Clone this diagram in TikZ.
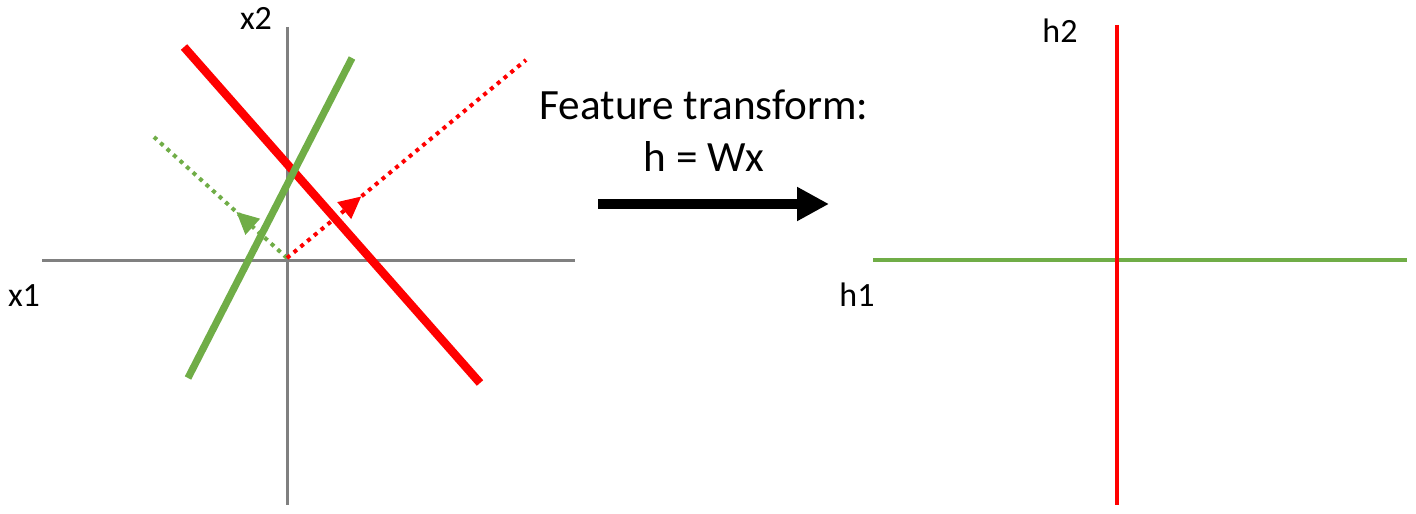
\documentclass[tikz,border=0pt]{standalone}
\usepackage{fontspec}
\setmainfont{Carlito}
\usetikzlibrary{arrows.meta,calc}
\definecolor{axgray}{HTML}{808080}
\definecolor{lred}{HTML}{FF0000}
\definecolor{lgreen}{HTML}{70AD47}
\begin{document}
\begin{tikzpicture}[x=0.5pt,y=-0.5pt,
  axis/.style={draw=axgray,line width=1.5pt},
  boldline/.style={line width=4.2pt},
  dotline/.style={line width=2pt,dash pattern=on 2pt off 2.4pt},
  lbl/.style={font=\fontsize{17}{20}\selectfont,anchor=base,inner sep=0pt},
  title/.style={font=\fontsize{21.6}{26}\selectfont,anchor=base,inner sep=0pt}]
\useasboundingbox (0,0) rectangle (1416,513);
% left axes
\coordinate (ax1l) at (42,260);
\coordinate (ax1r) at (575,260);
\coordinate (ax2t) at (287,27);
\coordinate (ax2b) at (287,505);
\coordinate (o) at (287,258);
\draw[axis] (ax1l) -- (ax1r);
\draw[axis] (ax2t) -- (ax2b);
\node[lbl] (x2) at (256,30) {x2};
\node[lbl] (x1) at (24,306) {x1};
% solid lines
\coordinate (r1) at (184,47);
\coordinate (r2) at (480,383);
\coordinate (g1) at (352,58);
\coordinate (g2) at (188,378);
\draw[boldline,lred] (r1) -- (r2);
\draw[boldline,lgreen,line width=3.6pt] (g1) -- (g2);
% dotted direction vectors
\coordinate (gd) at (154,137);
\coordinate (rd) at (526,60);
\draw[dotline,lgreen] (o) -- (gd);
\draw[dotline,lred] (o) -- (rd);
% arrowheads on the dotted vectors
\coordinate (gt) at (236.5,212);
\coordinate (gc1) at (260.2,218.7);
\coordinate (gc2) at (245.4,234.9);
\coordinate (rt) at (361.1,196.6);
\coordinate (rc1) at (351.2,219.1);
\coordinate (rc2) at (337.2,202.1);
\fill[lgreen] (gt) -- (gc1) -- (gc2) -- cycle;
\fill[lred] (rt) -- (rc1) -- (rc2) -- cycle;
% transform text and arrow
\node[title] (ft) at (704,120) {Feature transform:};
\node[title] (hw) at (704,172) {h = Wx};
\coordinate (as) at (598,204);
\coordinate (ae) at (829,204);
\draw[line width=5pt,-{Triangle[length=16pt,width=16pt]}] (as) -- (ae);
% right axes
\coordinate (h1l) at (873,260);
\coordinate (h1r) at (1407,260);
\coordinate (h2t) at (1117,25);
\coordinate (h2b) at (1117,505);
\draw[lgreen,line width=2.2pt] (h1l) -- (h1r);
\draw[lred,line width=2pt] (h2t) -- (h2b);
\node[lbl] (h2) at (1060,43) {h2};
\node[lbl] (h1) at (857,306) {h1};
\end{tikzpicture}
\end{document}
